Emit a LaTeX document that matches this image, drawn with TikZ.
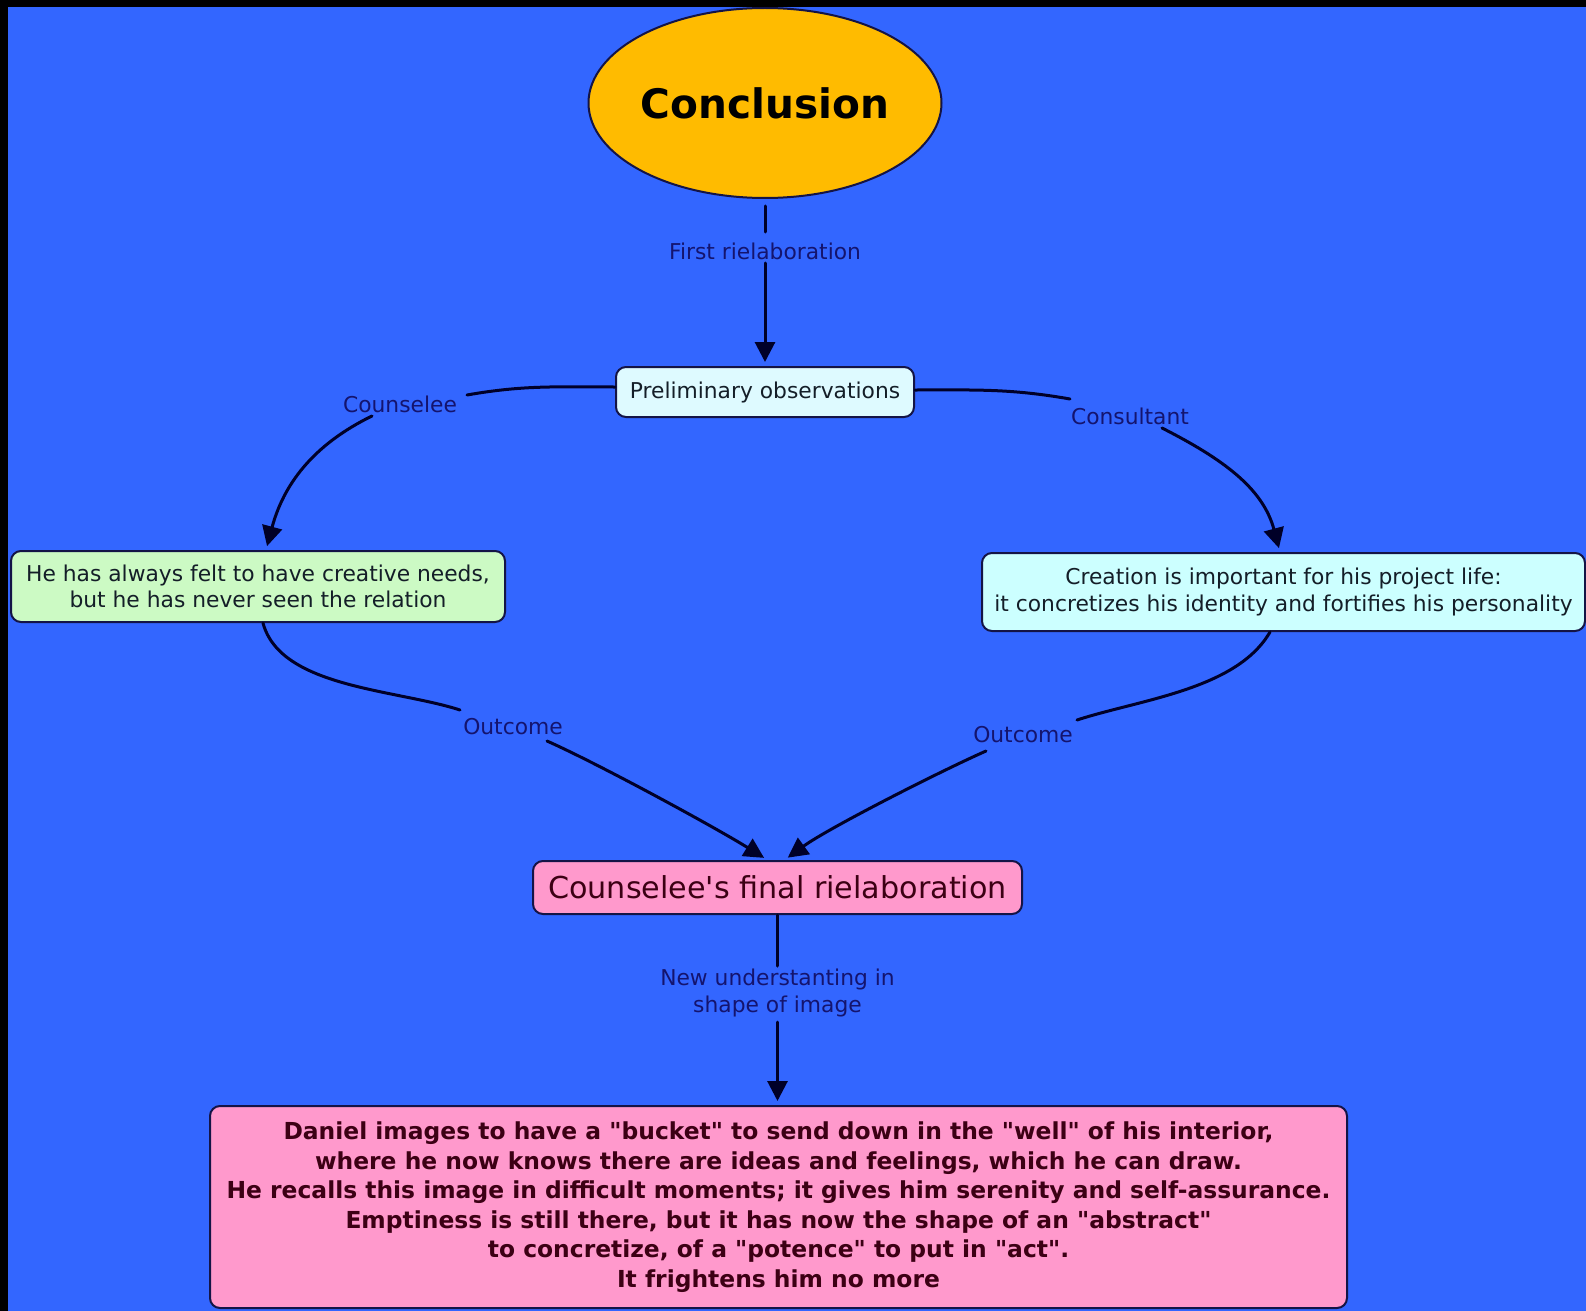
\documentclass[tikz,border=0pt]{standalone}
\usepackage{fontspec}
\setmainfont{DejaVu Sans}
\usetikzlibrary{arrows.meta,shapes.geometric}

\definecolor{bgblue}{RGB}{51,102,255}
\definecolor{linecol}{RGB}{0,0,40}
\definecolor{lblcol}{RGB}{20,20,110}
\definecolor{boxedge}{RGB}{20,20,70}
\definecolor{nodetext}{RGB}{20,30,40}
\definecolor{pinktext}{RGB}{60,0,20}
\definecolor{conclfill}{RGB}{255,187,0}
\definecolor{prelimfill}{RGB}{222,250,255}
\definecolor{greenfill}{RGB}{204,250,196}
\definecolor{cyanfill}{RGB}{204,255,255}
\definecolor{pinkfill}{RGB}{255,153,204}

% straight double quote
\newcommand{\sq}{\textquotedbl}

\begin{document}
\begin{tikzpicture}[x=0.5pt,y=-0.5pt,
  box/.style={draw=boxedge,line width=1pt,rounded corners=5pt,inner sep=2pt,
    align=center,text=nodetext,font=\fontsize{10.9}{13.15}\selectfont},
  lbl/.style={text=lblcol,font=\fontsize{10.9}{13.5}\selectfont,inner sep=0pt,align=center},
  conn/.style={draw=linecol,line width=1.5pt,line cap=round},
  arr/.style={conn,-{Triangle[length=10pt,width=10pt]},shorten >=2pt},
]
% backdrop with its dark frame on top and left
\fill[black] (0,0) rectangle (1586,1311);
\fill[bgblue] (8,7) rectangle (1586,1311);
\useasboundingbox (0,0) rectangle (1586,1311);

% concepts
\node[ellipse,draw=boxedge,line width=1pt,fill=conclfill,minimum width=176.5pt,
  minimum height=95pt,inner sep=0pt,font=\fontsize{20.3}{24}\selectfont\bfseries]
  (concl) at (765,103) {Conclusion};
\node[box,fill=prelimfill,minimum width=149pt,minimum height=25pt]
  (prelim) at (765,392) {Preliminary observations};
\node[box,fill=greenfill,minimum width=247pt,minimum height=35.5pt]
  (green) at (258,586.5) {He has always felt to have creative needs,\\but he has never seen the relation};
\node[box,fill=cyanfill,minimum width=301.5pt,minimum height=39pt]
  (cyan) at (1283.5,592) {Creation is important for his project life:\\it concretizes his identity and fortifies his personality};
\node[box,fill=pinkfill,text=pinktext,minimum width=244.5pt,minimum height=26.5pt,
  font=\fontsize{15.1}{18}\selectfont]
  (pmid) at (777.5,887.5) {Counselee\textquotesingle s final rielaboration};
\node[box,fill=pinkfill,text=pinktext,minimum width=568.5pt,minimum height=101pt,
  font=\fontsize{11.7}{14.75}\selectfont\bfseries]
  (bottom) at (778.5,1207) {Daniel images to have a \sq bucket\sq{} to send down in the \sq well\sq{} of his interior,\\
  where he now knows there are ideas and feelings, which he can draw.\\
  He recalls this image in difficult moments; it gives him serenity and self-assurance.\\
  Emptiness is still there, but it has now the shape of an \sq abstract\sq\\
  to concretize, of a \sq potence\sq{} to put in \sq act\sq.\\
  It frightens him no more};

% link phrases
\node[lbl] (l1) at (765,251) {First rielaboration};
\node[lbl] (cl) at (400,404) {Counselee};
\node[lbl] (cs) at (1130,416) {Consultant};
\node[lbl] (ol) at (513,727) {Outcome};
\node[lbl] (or) at (1023,735) {Outcome};
\node[lbl] (nu) at (777.5,993) {New understanting in\\shape of image};

% connectors
\draw[conn,shorten <=3.5pt] (concl.south) -- ([shift={(0,-19)}]l1.center);
\draw[arr] ([shift={(0,12)}]l1.center) -- (prelim.north);

\draw[conn] ([shift={(0,-5)}]prelim.west) to[out=180,in=10] ([shift={(67,-9)}]cl.center);
\draw[arr] ([shift={(-28,12)}]cl.center) to[out=206,in=75] ([shift={(8,0)}]green.north);

\draw[conn] ([shift={(0,-2)}]prelim.east) to[out=0,in=170] ([shift={(-60,-17)}]cs.center);
\draw[arr] ([shift={(32,12)}]cs.center) to[out=-27,in=105] ([shift={(-3.5,0)}]cyan.north);

\draw[conn] ([shift={(5,0)}]green.south) to[out=-75,in=162,looseness=0.8] ([shift={(-53,-17)}]ol.center);
\draw[arr] ([shift={(34,14)}]ol.center) to[out=-24,in=148,looseness=0.6] ([shift={(-10,0)}]pmid.north);

\draw[conn] ([shift={(-13.5,0)}]cyan.south) to[out=-120,in=18,looseness=0.8] ([shift={(54,-15)}]or.center);
\draw[arr] ([shift={(-37,16)}]or.center) to[out=204,in=36,looseness=0.6] ([shift={(7,0)}]pmid.north);

\draw[conn] (pmid.south) -- ([shift={(0,-27)}]nu.center);
\draw[arr] ([shift={(0,29)}]nu.center) -- (nu.center |- bottom.north);
\end{tikzpicture}
\end{document}
